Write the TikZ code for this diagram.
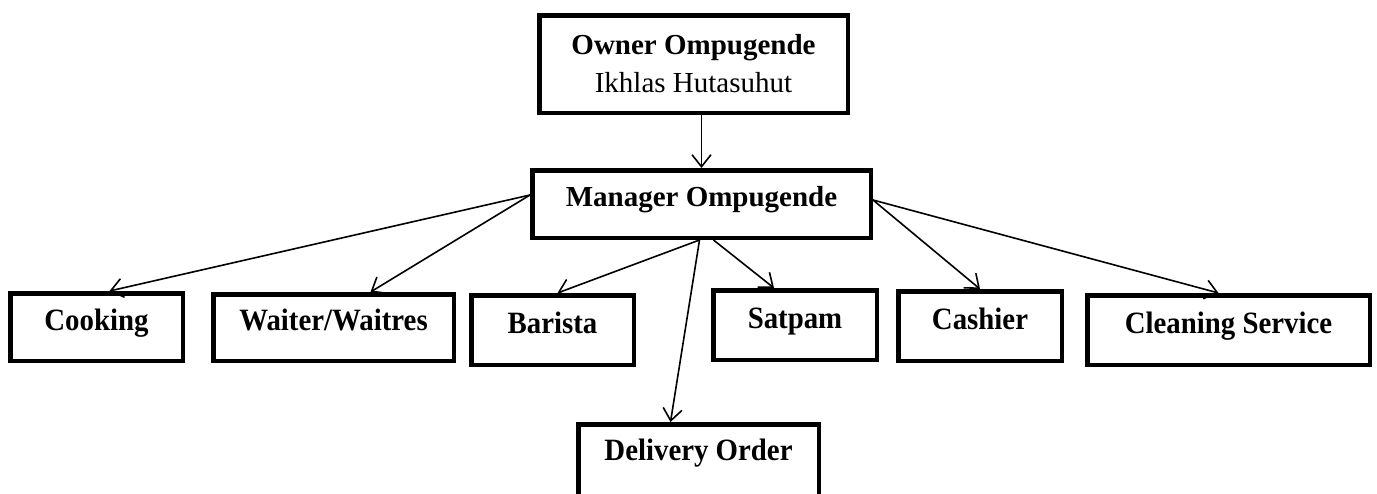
\documentclass[tikz,border=0pt]{standalone}
\usepackage{fontspec}
\setmainfont{Liberation Serif}
\newfontfamily\bottomfont[FakeStretch=0.93]{Liberation Serif}
\usetikzlibrary{arrows.meta}
\begin{document}
\begin{tikzpicture}[x=1pt,y=-1pt,
  box/.style={draw,line width=4.5pt,inner sep=0pt,align=center,
    font=\fontsize{29}{38}\selectfont\bfseries},
  onebox/.style={box,text height=0.72em,text depth=0.22em},
  lowbox/.style={box,text height=0.75em,text depth=0.15em,
    font=\bottomfont\fontsize{31}{38}\selectfont\bfseries},
  conn/.style={line width=1.6pt,-{Straight Barb[length=12pt,width=19pt,line width=1.6pt]}}]
\useasboundingbox[fill=white] (0,0) rectangle (1377,493);
\node[box,minimum width=308.5pt,minimum height=97.5pt] (own) at (693.5,64)
  {Owner Ompugende\\{\mdseries Ikhlas Hutasuhut}};
\node[onebox,minimum width=338.5pt,minimum height=67.5pt] (mgr) at (701.5,204) {Manager Ompugende};
\node[lowbox,minimum width=172.5pt,minimum height=67.5pt] (cook) at (96.5,327) {Cooking};
\node[lowbox,minimum width=240.5pt,minimum height=66.5pt] (wait) at (333.5,327.5) {Waiter/Waitres};
\node[lowbox,minimum width=162.5pt,minimum height=69.5pt] (bar) at (552.5,330) {Barista};
\node[lowbox,minimum width=163.5pt,minimum height=69.5pt] (sat) at (795,325) {Satpam};
\node[lowbox,minimum width=163.5pt,minimum height=69.5pt] (cash) at (980,326) {Cashier};
\node[lowbox,minimum width=282.5pt,minimum height=69.5pt] (clean) at (1228.5,330) {Cleaning Service};
\node[lowbox,text depth=0.15em+20pt,minimum width=240.5pt,minimum height=85.5pt] (del) at (698.5,467) {Delivery Order};
\draw[conn] (mgr.north |- own.south) -- (mgr.north);
\draw[conn] ([yshift=9pt]mgr.west) -- ([xshift=13pt]cook.north);
\draw[conn] ([yshift=9pt]mgr.west) -- ([xshift=37pt]wait.north);
\draw[conn] ([xshift=-2pt]mgr.south) -- ([xshift=5pt]bar.north);
\draw[conn] ([xshift=-2pt]mgr.south) -- ([xshift=-28pt]del.north);
\draw[conn] ([xshift=12pt]mgr.south) -- ([xshift=-21pt]sat.north);
\draw[conn] ([yshift=4pt]mgr.east) -- (cash.north);
\draw[conn] ([yshift=4pt]mgr.east) -- ([xshift=-10pt]clean.north);
\end{tikzpicture}
\end{document}
